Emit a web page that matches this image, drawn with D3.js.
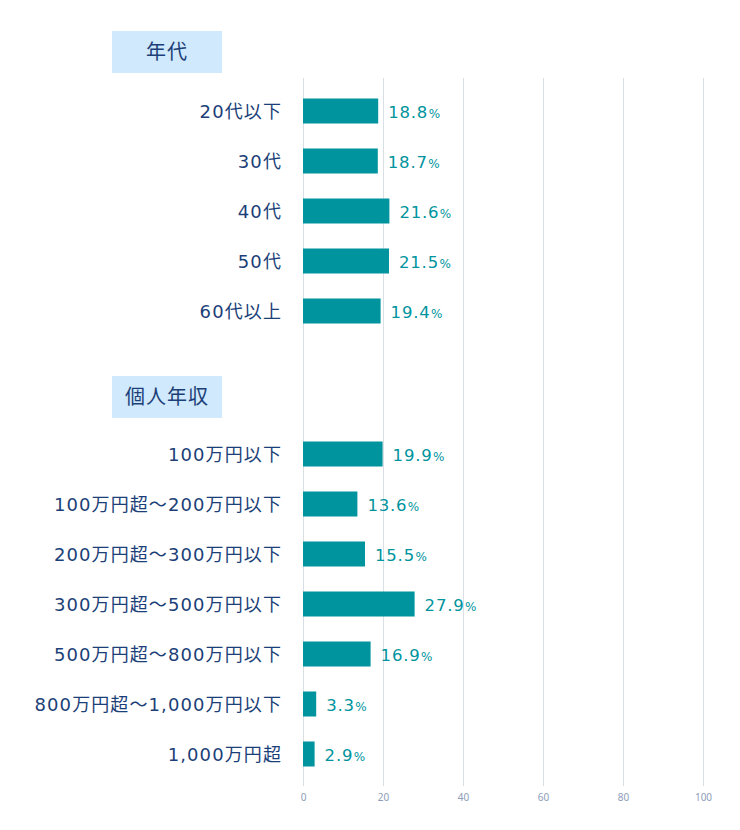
<!DOCTYPE html>
<html>
<head>
<meta charset="utf-8">
<script src="https://cdn.jsdelivr.net/npm/d3@7"></script>
<style>
    body { margin: 0; background: #fff; }
    svg text { font-family: "DejaVu Sans", "Noto Sans CJK JP", sans-serif; }
</style>
</head>
<body>
<div id="chart"></div>
<script>
    'use strict';

    // group titles
    var groupTitles = ['年代', '個人年収'];

    // categories and values (%)
    var ageLabels = ['20代以下', '30代', '40代', '50代', '60代以上'];
    var ageValues = [18.8, 18.7, 21.6, 21.5, 19.4];

    var incomeLabels = ['100万円以下', '100万円超～200万円以下', '200万円超～300万円以下',
        '300万円超～500万円以下', '500万円超～800万円以下', '800万円超～1,000万円以下', '1,000万円超'];
    var incomeValues = [19.9, 13.6, 15.5, 27.9, 16.9, 3.3, 2.9];

    var xTicks = [0, 20, 40, 60, 80, 100];

    var width = 740, height = 830;
    var x0 = 303, x1 = 703;
    var gridTop = 78, gridBottom = 786;

    var xScale = d3.scaleLinear().domain([0, 100]).range([x0, x1]);

    var svg = d3.select('#chart')
        .append('svg')
        .attr('width', width)
        .attr('height', height);

    // grid lines
    svg.append('g')
        .selectAll('line')
        .data(xTicks)
        .enter()
        .append('line')
        .attr('x1', function (d) { return xScale(d) + 0.5; })
        .attr('x2', function (d) { return xScale(d) + 0.5; })
        .attr('y1', gridTop)
        .attr('y2', gridBottom)
        .attr('stroke', '#dadfe6')
        .attr('stroke-width', 1);

    var xAxis = d3.axisBottom(xScale)
        .tickValues(xTicks)
        .tickSize(0)
        .tickPadding(0);

    var axisG = svg.append('g')
        .attr('transform', 'translate(0,' + 794 + ')')
        .call(xAxis);
    axisG.select('.domain').remove();
    axisG.selectAll('text')
        .attr('fill', '#8e9dba')
        .style('font-size', '10px')
        .style('font-family', '"Noto Sans", sans-serif');

    var groups = [
        { title: groupTitles[0], labels: ageLabels, values: ageValues, headerY: 52, firstY: 111 },
        { title: groupTitles[1], labels: incomeLabels, values: incomeValues, headerY: 397, firstY: 454 }
    ];

    groups.forEach(function (grp) {
        var n = grp.labels.length;
        var yScale = d3.scaleBand()
            .domain(grp.labels)
            .range([grp.firstY - 25, grp.firstY - 25 + n * 50])
            .paddingInner(0.5)
            .paddingOuter(0.25);

        // header box
        svg.append('rect')
            .attr('x', 112)
            .attr('y', grp.headerY - 21)
            .attr('width', 110)
            .attr('height', 42)
            .attr('fill', '#d0e9fd');

        svg.append('text')
            .attr('x', 167)
            .attr('y', grp.headerY)
            .attr('dy', '0.36em')
            .attr('text-anchor', 'middle')
            .attr('fill', '#1c3f78')
            .style('font-size', '20px')
            .style('letter-spacing', '1px')
            .style('font-family', '"Noto Sans CJK JP", sans-serif')
            .text(grp.title);

        var data = grp.labels.map(function (l, i) { return { label: l, value: grp.values[i] }; });

        var g = svg.append('g');

        g.selectAll('.bar')
            .data(data)
            .enter()
            .append('rect')
            .attr('class', 'bar')
            .attr('x', xScale(0))
            .attr('y', function (d) { return yScale(d.label); })
            .attr('width', function (d) { return xScale(d.value) - xScale(0); })
            .attr('height', yScale.bandwidth())
            .attr('fill', '#00949e');

        g.selectAll('.cat')
            .data(data)
            .enter()
            .append('text')
            .attr('class', 'cat')
            .attr('x', 282)
            .attr('y', function (d) { return yScale(d.label) + yScale.bandwidth() / 2 + 1; })
            .attr('dy', '0.36em')
            .attr('text-anchor', 'end')
            .attr('fill', '#1c3f78')
            .style('font-size', '18px')
            .style('letter-spacing', '1.1px')
            .text(function (d) { return d.label; });

        var vl = g.selectAll('.val')
            .data(data)
            .enter()
            .append('text')
            .attr('class', 'val')
            .attr('x', function (d) { return xScale(d.value) + 10; })
            .attr('y', function (d) { return yScale(d.label) + yScale.bandwidth() / 2 + 1; })
            .attr('dy', '0.36em')
            .attr('fill', '#00949e')
            .style('font-size', '16.5px')
            .style('letter-spacing', '0.8px');
        vl.append('tspan').text(function (d) { return d.value.toFixed(1); });
        vl.append('tspan').style('font-size', '12px').attr('dx', 0.5).text('%');
    });
</script>
</body>
</html>
